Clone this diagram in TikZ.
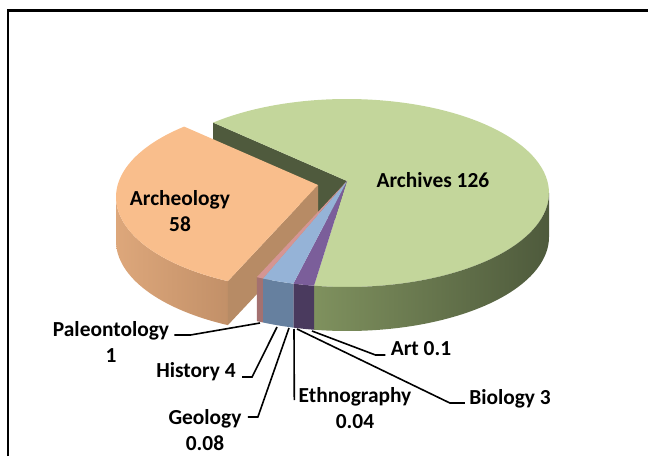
\documentclass[tikz,border=0pt]{standalone}
\usepackage{fontspec}
\setmainfont{Carlito}
\usetikzlibrary{calc}

\definecolor{grTop}{HTML}{C3D69B}
\definecolor{grDark}{HTML}{4F5A3D}
\definecolor{grSideL}{HTML}{7F915E}
\definecolor{grSideD}{HTML}{4E5A3C}
\definecolor{arTop}{HTML}{F9BE8C}
\definecolor{arFace}{HTML}{B78B65}
\definecolor{arSideL}{HTML}{DDA77B}
\definecolor{arSideD}{HTML}{C29068}
\definecolor{paTop}{HTML}{D59593}
\definecolor{paSide}{HTML}{A47170}
\definecolor{hiTop}{HTML}{95B3D7}
\definecolor{hiSide}{HTML}{66809F}
\definecolor{biTop}{HTML}{7B5E9A}
\definecolor{biSide}{HTML}{4A3A5E}

\begin{document}
\begin{tikzpicture}[
  lbl/.style={font=\fontsize{10.7}{13}\selectfont\bfseries,align=center,inner sep=1pt},
  lead/.style={black,line width=0.8pt},
  rim/.style={x radius=202,y radius=94},
  x=0.5pt,y=0.5pt
]
  \useasboundingbox (0,0) rectangle (648,456);
  \draw[line width=1.1pt] (8.3,0) -- (8.3,445.5) -- (648,445.5);

  \coordinate (t) at (347,263);
  \coordinate (b) at (347,219);
  \coordinate (g) at (347,275);
  \coordinate (at) at (318,259);
  \coordinate (a) at (318,271);

  % archives
  \fill[grDark] ($(t)+(131.5:202 and 94)$) -- (g) -- ++(0,-44) -- ($(b)+(131.5:202 and 94)$) -- cycle;
  \fill[grTop] (g) -- ($(t)+(131.5:202 and 94)$) arc[rim,start angle=131.5,end angle=-99.4] -- cycle;
  \shade[left color=grSideL,right color=grSideD] ($(t)+(0:202 and 94)$) arc[rim,start angle=0,end angle=-99.4]
    -- ++(0,-44) arc[rim,start angle=-99.4,end angle=0] -- cycle;

  % archeology, pulled out
  \shade[left color=arSideL,right color=arSideD] ($(at)+(180:202 and 94)$) arc[rim,start angle=180,end angle=243.5]
    -- ++(0,-44) arc[rim,start angle=243.5,end angle=180] -- cycle;
  \fill[arFace] (a) -- ($(at)+(243.5:202 and 94)$) -- ++(0,-44) -- ($(a)+(0,-44)$) -- cycle;
  \fill[arTop] (a) -- ($(at)+(131.5:202 and 94)$) arc[rim,start angle=131.5,end angle=243.5] -- cycle;

  % small slices
  \foreach \s/\e/\ct/\cs in {-99.4/-105.4/biTop/biSide,-105.4/-114.6/hiTop/hiSide,-114.6/-116.5/paTop/paSide}{
    \fill[\cs] ($(t)+(\s:202 and 94)$) arc[rim,start angle=\s,end angle=\e] -- ++(0,-44) arc[rim,start angle=\e,end angle=\s] -- cycle;
    \fill[\ct] (g) -- ($(t)+(\s:202 and 94)$) arc[rim,start angle=\s,end angle=\e] -- cycle;
  }

  \node[lbl] (arv) at (433,276) {Archives 126};
  \node[lbl] (arc) at (180,245) {Archeology\\58};
  \node[lbl] (pal) at (111,114) {Paleontology\\1};
  \node[lbl] (his) at (196,84) {History 4};
  \node[lbl] (geo) at (205,26) {Geology\\0.08};
  \node[lbl] (eth) at (355,48) {Ethnography\\0.04};
  \node[lbl] (art) at (421,107) {Art 0.1};
  \node[lbl] (bio) at (510,57) {Biology 3};

  \coordinate (p-pal) at (260,133);
  \coordinate (p-his) at (277,129);
  \coordinate (p-geo) at (289,128);
  \coordinate (p-eth) at (294,127);
  \coordinate (p-bio) at (297,127);
  \coordinate (p-art) at (312,125);

  \draw[lead] ($(pal.east)+(3,7)$) -- ++(16,0) -- (p-pal);
  \draw[lead] ($(his.east)+(4,-5)$) -- ++(10,0) -- (p-his);
  \draw[lead] ($(geo.east)+(4,13)$) -- ++(10,0) -- (p-geo);
  \draw[lead] ($(eth.west)+(-2,8)$) -- (p-eth);
  \draw[lead] ($(bio.west)+(-2,-4)$) -- ++(-15,0) -- (p-bio);
  \draw[lead] ($(art.west)+(-3,-6)$) -- ++(-10,0) -- (p-art);
\end{tikzpicture}
\end{document}
